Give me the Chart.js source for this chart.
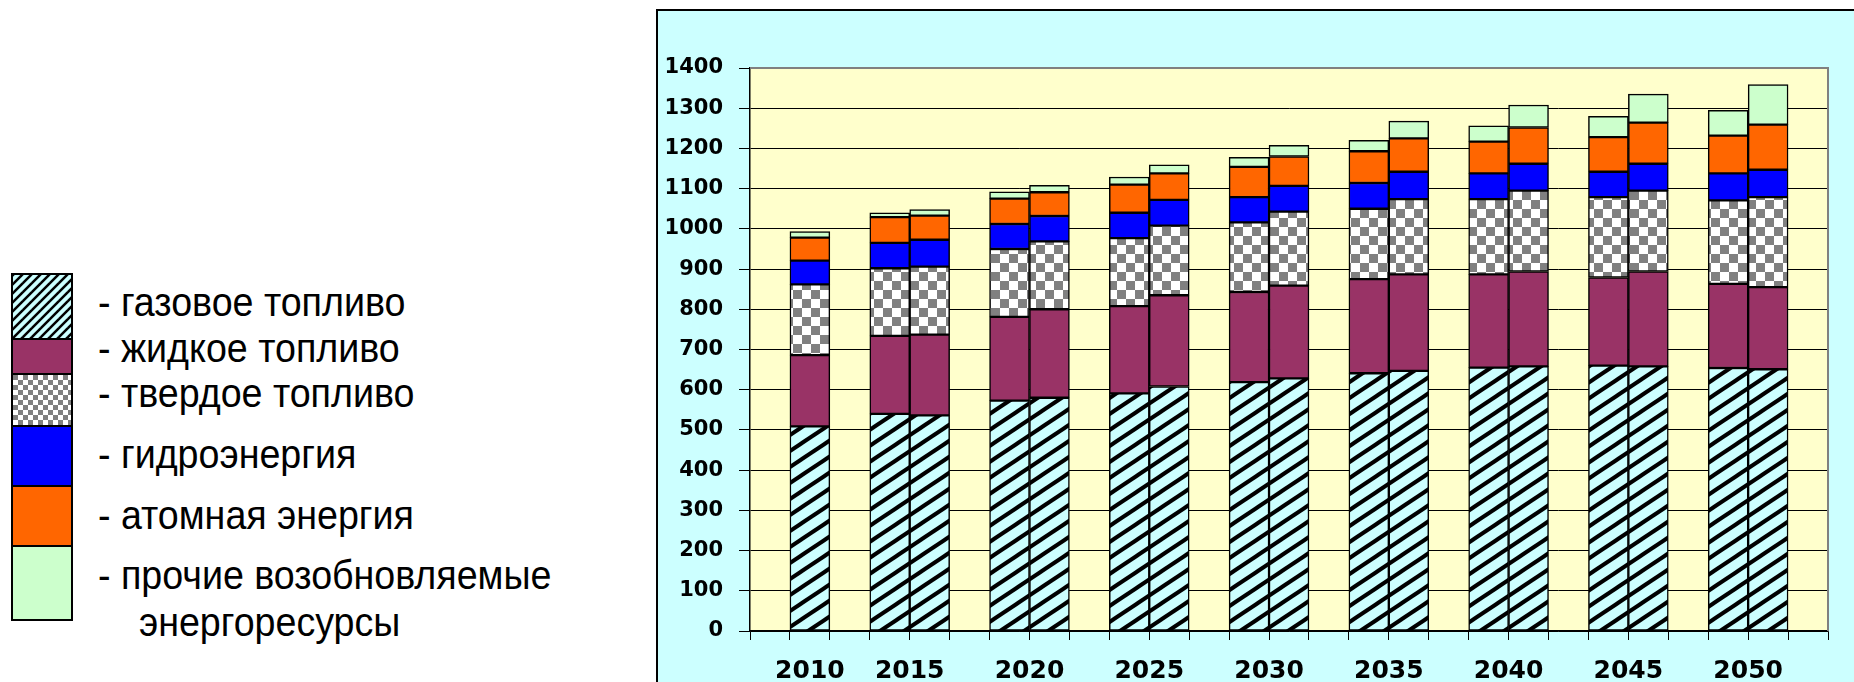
<!DOCTYPE html>
<html>
<head>
<meta charset="utf-8">
<script src="https://cdn.jsdelivr.net/npm/chart.js@4.4.1/dist/chart.umd.min.js"></script>
<style>
html,body{margin:0;padding:0;background:#fff;width:1854px;height:682px;overflow:hidden;position:relative}
#frame{position:absolute;left:656px;top:9px;width:1300px;height:800px;background:#ccffff;border-left:2px solid #000;border-top:2px solid #000}
#c{position:absolute;left:658px;top:11px}
.sw{position:absolute;left:11px;width:62px;border:2px solid #000;box-sizing:border-box}
.lb{position:absolute;font-family:"Liberation Sans",Arial,sans-serif;font-size:40px;line-height:40px;white-space:nowrap;transform:scaleX(0.94);transform-origin:0 0;color:#000}
</style>
</head>
<body>
<div id="frame"></div>
<canvas id="c" width="1196" height="671"></canvas>
<div id="legend"></div>
<script>
// годы и число столбцов (сценариев) в каждом году
const years = ['2010','2015','2020','2025','2030','2035','2040','2045','2050'];
const barsPerYear = [1,2,2,2,2,2,2,2,2];

const seriesNames = ['- газовое топливо','- жидкое топливо','- твердое топливо','- гидроэнергия','- атомная энергия','- прочие возобновляемые'];

// значения по столбцам (17 столбцов, слева направо)
const gas     = [509,540,536,573,580,591,608,619,628,641,647,655,658,660,658,654,651];
const liquid  = [177,194,201,208,220,217,227,224,231,234,240,232,236,219,236,209,204];
const solid   = [176,168,169,169,169,169,173,173,184,175,187,187,201,200,201,208,224];
const hydro   = [59,63,67,62,63,63,64,63,64,64,68,64,67,63,67,67,68];
const nuclear = [57,64,60,63,59,70,66,75,73,79,83,79,90,86,102,94,112];
const other   = [15,11,15,17,17,19,21,24,28,27,43,39,56,52,71,63,100];

const yMin = 0, yMax = 1400, yStep = 100;

// раскладка столбцов по слотам: пустой слот перед каждой группой и в конце
const barX = [];
const labelX = [];
let slot = 0;
barsPerYear.forEach(n => {
  slot += 1;
  for (let k = 0; k < n; k++) barX.push(slot + k + 0.5);
  labelX.push(slot + n / 2);
  slot += n;
});
const slotCount = slot + 1;

function hatch(w, h, lw, bg) {
  const c = document.createElement('canvas');
  c.width = w; c.height = h;
  const g = c.getContext('2d');
  g.fillStyle = bg; g.fillRect(0, 0, w, h);
  g.strokeStyle = '#000'; g.lineWidth = lw;
  for (let n = -2; n <= 2; n++) {
    g.beginPath();
    g.moveTo(-w, 2 * h + n * h);
    g.lineTo(2 * w, -h + n * h);
    g.stroke();
  }
  return c;
}
function checker(s) {
  const c = document.createElement('canvas');
  c.width = 2 * s; c.height = 2 * s;
  const g = c.getContext('2d');
  g.fillStyle = '#fff'; g.fillRect(0, 0, 2 * s, 2 * s);
  g.fillStyle = '#808080';
  g.fillRect(0, 0, s, s); g.fillRect(s, s, s, s);
  return c;
}

const ctx = document.getElementById('c').getContext('2d');
const gasPat = ctx.createPattern(hatch(24, 16, 4, '#ccffff'), 'repeat');
const solidPat = ctx.createPattern(checker(9), 'repeat');

const fills = [gasPat, '#993366', solidPat, '#0000ff', '#ff6600', '#ccffcc'];
const values = [gas, liquid, solid, hydro, nuclear, other];

const datasets = values.map((arr, s) => ({
  label: seriesNames[s],
  data: arr.map((v, i) => ({x: barX[i], y: v})),
  backgroundColor: fills[s],
  borderColor: '#000',
  borderWidth: 1.5,
  borderSkipped: false,
  barPercentage: 1,
  categoryPercentage: 1
}));

const plotBg = {
  id: 'plotBg',
  beforeDraw(chart) {
    const {ctx, chartArea: a} = chart;
    ctx.save();
    ctx.fillStyle = '#ffffcc';
    ctx.fillRect(a.left, a.top, a.right - a.left, a.bottom - a.top);
    ctx.restore();
  },
  afterDatasetsDraw(chart) {
    const {ctx, chartArea: a} = chart;
    ctx.save();
    ctx.strokeStyle = '#808080';
    ctx.lineWidth = 2;
    ctx.beginPath();
    ctx.moveTo(a.left, a.top);
    ctx.lineTo(a.right, a.top);
    ctx.lineTo(a.right, a.bottom);
    ctx.stroke();
    ctx.restore();
  }
};

new Chart(ctx, {
  type: 'bar',
  data: {datasets},
  plugins: [plotBg],
  options: {
    responsive: false,
    animation: false,
    layout: {padding: {top: 57, right: 26, left: 0, bottom: 0}},
    plugins: {legend: {display: false}, tooltip: {enabled: false}},
    scales: {
      x: {
        type: 'linear', min: 0, max: slotCount, stacked: true, weight: 0, offset: false,
        afterBuildTicks: sc => { sc.ticks = Array.from({length: slotCount + 1}, (_, i) => ({value: i})); },
        afterFit: sc => { sc.height = 9; },
        ticks: {display: false, autoSkip: false},
        grid: {drawOnChartArea: false, offset: false, color: '#000', lineWidth: 1, tickLength: 9},
        border: {color: '#000', width: 1.5}
      },
      x2: {
        type: 'linear', position: 'bottom', min: 0, max: slotCount, weight: 1, offset: false,
        afterBuildTicks: sc => { sc.ticks = labelX.map(v => ({value: v})); },
        afterFit: sc => { sc.height = 42; },
        ticks: {
          autoSkip: false, maxRotation: 0, padding: 16, color: '#000',
          font: {family: 'DejaVu Sans', weight: 'bold', size: 25},
          callback: (v) => years[labelX.indexOf(v)]
        },
        grid: {display: false, drawTicks: false, offset: false},
        border: {display: false}
      },
      y: {
        stacked: true, min: yMin, max: yMax,
        afterFit: sc => { sc.width = 92; },
        ticks: {
          stepSize: yStep, padding: 16, color: '#000',
          font: {family: 'DejaVu Sans', weight: 'bold', size: 21},
          callback: (v) => String(v)
        },
        grid: {color: '#000', lineWidth: 1, tickLength: 11},
        border: {color: '#000', width: 1.5}
      }
    }
  }
});

// легенда слева: столбик образцов и подписи
const legendEdges = [274, 339, 374, 426, 486, 546, 620];
const legendText = [
  {t: seriesNames[0], x: 98, y: 305},
  {t: seriesNames[1], x: 98, y: 351},
  {t: seriesNames[2], x: 98, y: 396},
  {t: seriesNames[3], x: 98, y: 457},
  {t: seriesNames[4], x: 98, y: 518},
  {t: seriesNames[5], x: 98, y: 578},
  {t: 'энергоресурсы', x: 139, y: 625}
];
const swFills = [
  'url(' + hatch(9, 9, 2.5, '#ccffff').toDataURL() + ')',
  '#993366',
  'url(' + checker(5).toDataURL() + ')',
  '#0000ff', '#ff6600', '#ccffcc'
];
const lg = document.getElementById('legend');
for (let i = 0; i < 6; i++) {
  const d = document.createElement('div');
  d.className = 'sw';
  d.style.top = (legendEdges[i] - 1) + 'px';
  d.style.height = (legendEdges[i + 1] - legendEdges[i] + 2) + 'px';
  d.style.background = swFills[i];
  lg.appendChild(d);
}
legendText.forEach(l => {
  const d = document.createElement('div');
  d.className = 'lb';
  d.textContent = l.t;
  d.style.left = l.x + 'px';
  d.style.top = (l.y - 23.5) + 'px';
  lg.appendChild(d);
});
</script>
</body>
</html>
